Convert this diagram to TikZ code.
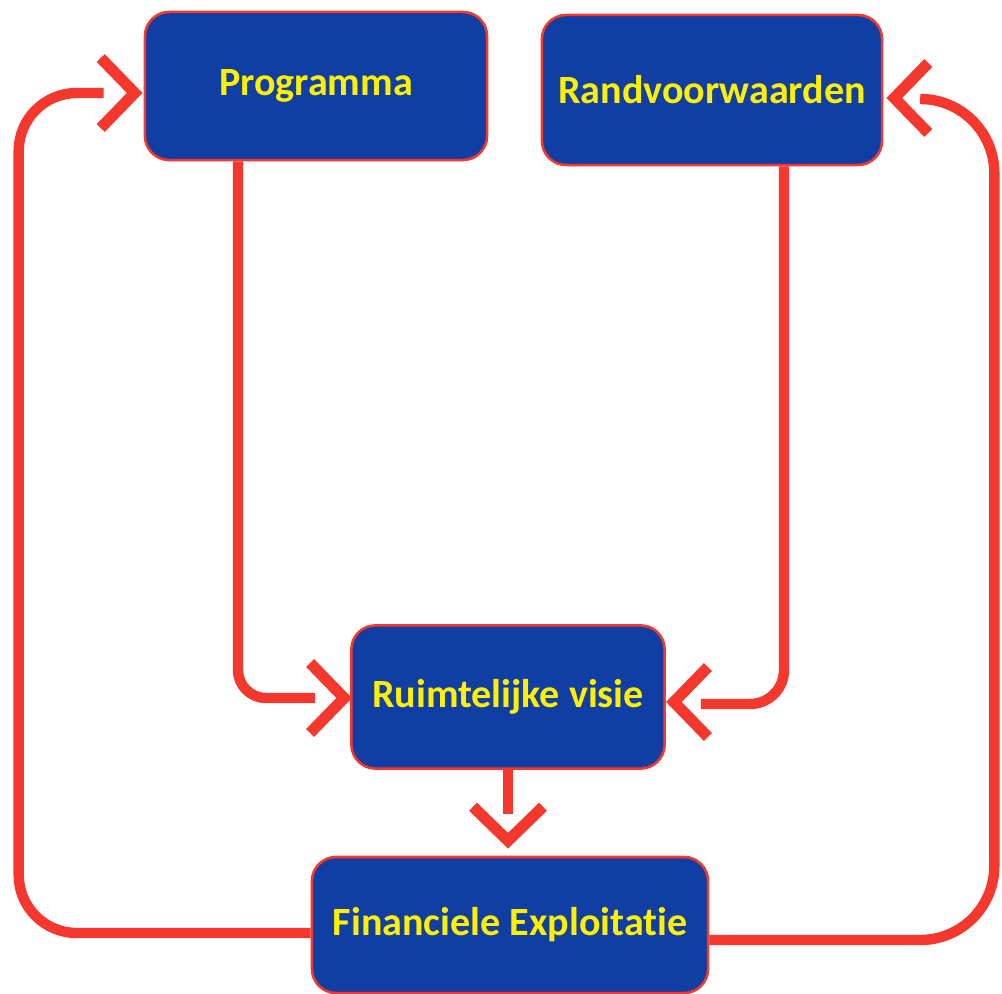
\documentclass[tikz,border=0pt]{standalone}
\usepackage{fontspec}
\setmainfont{Carlito}[Ligatures=NoCommon]
\usetikzlibrary{calc}
\definecolor{boxblue}{RGB}{16,62,162}
\definecolor{linered}{RGB}{245,56,46}
\definecolor{txtyellow}{RGB}{255,240,0}

\begin{document}
\begin{tikzpicture}[
        x=0.025cm, y=-0.025cm,
        box/.style={rectangle, draw=linered, line width=1.8pt, rounded corners=0.6cm, fill=boxblue, text=txtyellow, font=\fontsize{28.5}{32}\selectfont\bfseries, align=center},
        link/.style={draw=linered, line width=7.4pt},
        chev/.pic={\draw[linered, line width=8pt] (-40,-35) -- (-6,0) -- (-40,35);}
    ]
    \useasboundingbox (0,0) rectangle (1002,994);

    % Blokken
    \node[box, minimum width=8.55cm, minimum height=3.7cm] (prog) at (316,86) {Programma};
    \node[box, minimum width=8.5cm, minimum height=3.75cm] (rand) at (712,90) {Randvoorwaarden};
    \node[box, minimum width=7.83cm, minimum height=3.58cm] (ruim) at (508,697) {Ruimtelijke visie};
    \node[box, minimum width=9.9cm, minimum height=3.4cm] (fin) at (510,925) {Financiele Exploitatie};

    % Verbindingen
    \draw[link, rounded corners=0.7cm] ($(prog.south)+(-78,0)$) |- ($(ruim.west)+(-35,1)$);
    \draw[link, rounded corners=0.85cm] ($(rand.south)+(72,0)$) |- ($(ruim.east)+(35,7)$);
    \draw[link] (ruim.south) -- ($(ruim.south |- fin.north)+(0,-42)$);

    % Terugkoppeling
    \draw[link] ($(fin.west)+(0,8)$) [rounded corners=1.45cm] -| ($(prog.west)+(-125,7)$) [rounded corners=0.75cm] -- ($(prog.west)+(-40,7)$);
    \draw[link] ($(fin.east)+(0,15)$) [rounded corners=1.85cm] -| ($(rand.east)+(111,9)$) [rounded corners=0.85cm] -- ($(rand.east)+(40,9)$);

    % Pijlpunten
    \pic at ($(prog.west)+(-3,7)$) {chev};
    \pic at ($(ruim.west)+(0,1)$) {chev};
    \pic[rotate=180] at ($(ruim.east)+(2,5)$) {chev};
    \pic[rotate=180] at ($(rand.east)+(5,8)$) {chev};
    \pic[rotate=-90] at ($(ruim.south |- fin.north)+(0,-9)$) {chev};
\end{tikzpicture}
\end{document}
